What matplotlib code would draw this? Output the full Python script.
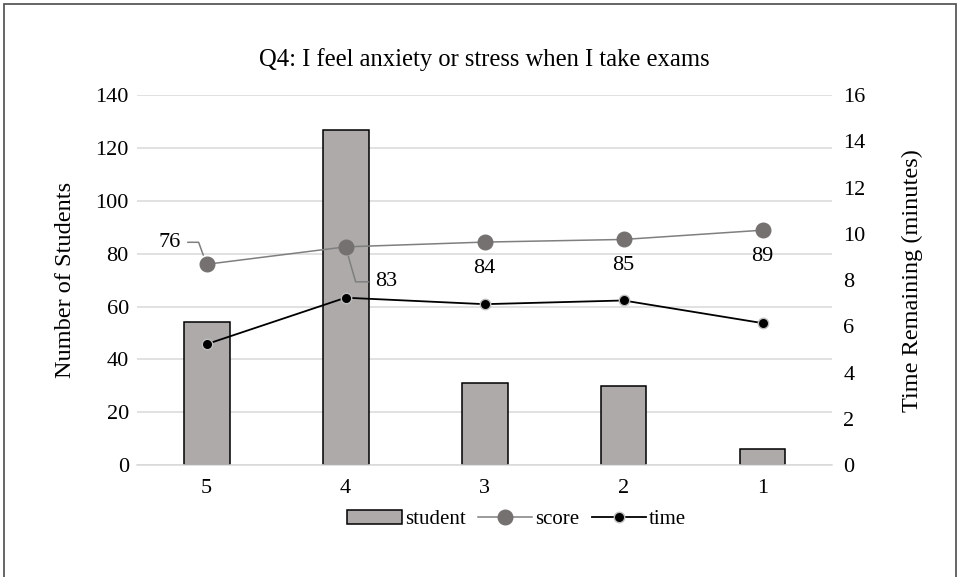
import matplotlib.pyplot as plt
from matplotlib.patches import Rectangle

plt.rcParams['font.family'] = ['Liberation Serif', 'DejaVu Serif']

categories = ['5', '4', '3', '2', '1']
students = [54, 127, 31, 30, 6]
score = [76.0, 82.6, 84.4, 85.4, 88.9]
time_left = [5.23, 7.24, 6.96, 7.12, 6.14]

fig = plt.figure(figsize=(9.59, 5.77), dpi=100)
ax = fig.add_axes([0.143, 0.194, 0.7246, 0.641])
ax2 = ax.twinx()

x = list(range(len(categories)))
ax.bar(x, students, width=0.33, color='#AEAAAA', edgecolor='black', linewidth=1.1,
       label='student', zorder=2)
ax.plot(x, score, color='#7F7F7F', linewidth=1.1, marker='o', markersize=10.5,
        markerfacecolor='#767171', markeredgecolor='#767171', label='score', zorder=3)
ax2.plot(x, time_left, color='black', linewidth=1.3, marker='o', markersize=7.5,
         markerfacecolor='black', markeredgecolor='#BFBFBF', markeredgewidth=1,
         label='time', zorder=3)

ax.set_xlim(-0.5, len(categories) - 0.5)
ax.set_ylim(0, 140)
ax.set_yticks(range(0, 141, 20))
ax2.set_ylim(0, 16)
ax2.set_yticks(range(0, 17, 2))
ax.set_xticks(x)
ax.set_xticklabels(categories)
ax.grid(axis='y', color='#D9D9D9', linewidth=1.1, zorder=0)
ax.set_axisbelow(True)
for a in (ax, ax2):
    for s in a.spines.values():
        s.set_visible(False)
    a.tick_params(length=0, labelsize=16)
ax.tick_params(axis='y', pad=6)
ax2.tick_params(axis='y', pad=8)
ax.tick_params(axis='x', pad=10)
ax.spines['bottom'].set_visible(True)
ax.spines['bottom'].set_color('#D9D9D9')
ax.spines['bottom'].set_linewidth(1.1)

ax.set_ylabel('Number of Students', fontsize=17.5)
ax2.set_ylabel('Time Remaining (minutes)', fontsize=17.5)
ax.yaxis.set_label_coords(-0.088, 0.5)
ax2.yaxis.set_label_coords(1.101, 0.5)
ax.set_title('Q4: I feel anxiety or stress when I take exams', fontsize=17.7, pad=21)

# score labels with leader lines
lead = dict(arrowstyle='-', color='#7F7F7F', linewidth=1.1, shrinkA=3, shrinkB=7)
ax.annotate(f'{score[0]:.0f}', (x[0], score[0]), xytext=(-37, 22), textcoords='offset pixels',
            ha='center', va='center', fontsize=16,
            arrowprops=dict(lead, connectionstyle='angle,angleA=0,angleB=110,rad=0'))
ax.annotate(f'{score[1]:.0f}', (x[1], score[1]), xytext=(41, -35), textcoords='offset pixels',
            ha='center', va='center', fontsize=16,
            arrowprops=dict(lead, connectionstyle='angle,angleA=0,angleB=-74,rad=0'))
for i in range(2, len(x)):
    ax.annotate(f'{score[i]:.0f}', (x[i], score[i]), xytext=(0, -26),
                textcoords='offset pixels', ha='center', va='center', fontsize=16)

h1, l1 = ax.get_legend_handles_labels()
h2, l2 = ax2.get_legend_handles_labels()
order = [l1.index('student'), l1.index('score')]
handles = [h1[i] for i in order] + h2
labels = [l1[i] for i in order] + l2
fig.legend(handles, labels, loc='center', bbox_to_anchor=(0.539, 0.099), ncol=3,
           frameon=False, fontsize=15, handlelength=2.6, handleheight=0.6,
           columnspacing=0.6, handletextpad=0.15)

fig.patches.append(Rectangle((4 / 959, -0.05), 952 / 959, 1.05 - 4 / 577,
                             transform=fig.transFigure, fill=False,
                             edgecolor='#595959', linewidth=1.3))

fig.savefig('out.png', dpi=100)
